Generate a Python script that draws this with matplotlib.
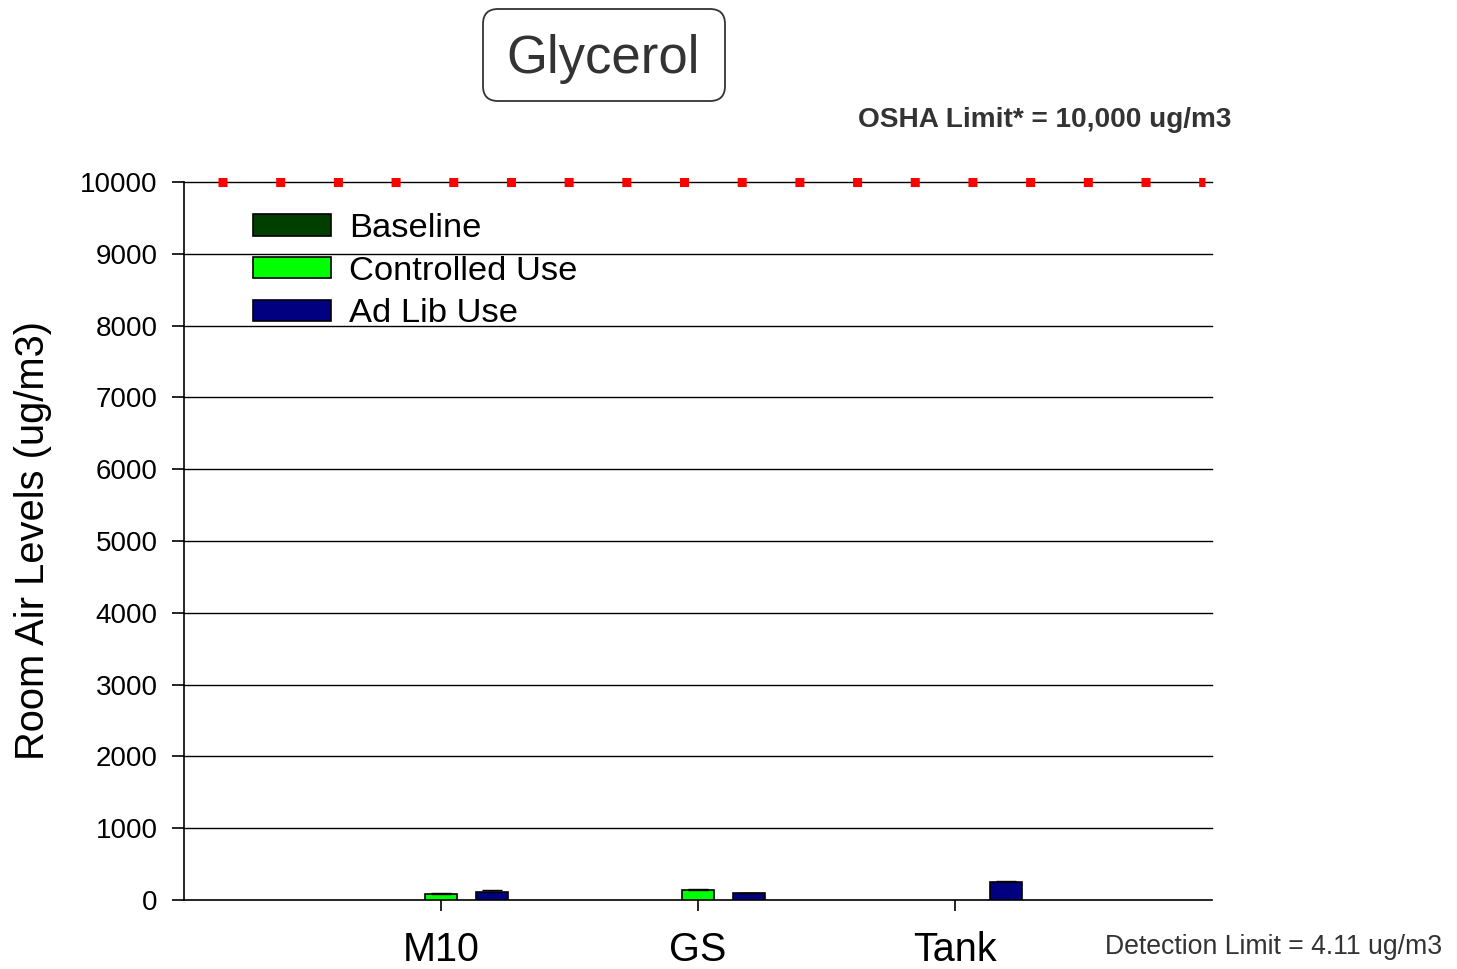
import matplotlib.pyplot as plt
import numpy as np
from matplotlib.patches import FancyBboxPatch

plt.rcParams['font.family'] = ['Liberation Sans', 'DejaVu Sans']

categories = ['M10', 'GS', 'Tank']
series = ['Baseline', 'Controlled Use', 'Ad Lib Use']
# baseline not detected -> no bars drawn
baseline = [np.nan, np.nan, np.nan]
controlled = [82, 135, np.nan]
controlled_err = [15, 15, 0]
adlib = [110, 92, 252]
adlib_err = [25, 6, 12]
osha_limit = 10000
colors = ['#003f00', '#00ff00', '#000080']

fig = plt.figure(figsize=(14.57, 9.69), dpi=100)
ax = fig.add_axes([184 / 1457, 1 - 900 / 969, 1028 / 1457, 718 / 969])

x = np.arange(1, len(categories) + 1)
w = 0.125
off = 0.2
ax.bar(x - off, baseline, w, color=colors[0], edgecolor='black', lw=1.2,
       label=series[0], zorder=3)
ax.bar(x, controlled, w, color=colors[1], edgecolor='black', lw=1.2,
       label=series[1], zorder=3)
ax.bar(x + off, adlib, w, color=colors[2], edgecolor='black', lw=1.2,
       label=series[2], zorder=3)
ax.errorbar(x, controlled, yerr=[np.zeros(3), controlled_err], fmt='none',
            ecolor='black', elinewidth=1, capsize=7, zorder=4)
ax.errorbar(x + off, adlib, yerr=[np.zeros(3), adlib_err], fmt='none',
            ecolor='black', elinewidth=1, capsize=7, zorder=4)

ax.set_xlim(0, 4)
ax.set_ylim(0, 10000)
ax.set_yticks(np.arange(0, 10001, 1000))
ax.set_xticks(x)
ax.set_xticklabels(categories, fontsize=28.5)
ax.tick_params(axis='y', labelsize=20, length=9, width=1.2, pad=10,
               direction='out')
ax.tick_params(axis='x', length=8, width=1.2, pad=14, direction='out')
for s in ['top', 'right']:
    ax.spines[s].set_visible(False)
for s in ['left', 'bottom']:
    ax.spines[s].set_linewidth(1.2)

for yv in np.arange(1000, 10001, 1000):
    ax.axhline(yv, color='black', lw=1, zorder=1, clip_on=False)

# OSHA limit dotted red squares
ax.axhline(osha_limit, xmin=(218 - 184) / 1028, xmax=(1205 - 184) / 1028,
           color='red', lw=6.5, dashes=(1, 5.39), zorder=5, clip_on=False)

ax.set_ylabel('Room Air Levels (ug/m3)', fontsize=28.7, labelpad=20)

leg = ax.legend(loc='upper left', bbox_to_anchor=(253 / 1457, 1 - 213 / 969),
                bbox_transform=fig.transFigure, frameon=False, fontsize=24.8,
                handlelength=2.25, handleheight=0.58, handletextpad=0.55,
                labelspacing=0.34, borderpad=0, borderaxespad=0)

box = FancyBboxPatch((4.83, 8.68), 2.42, 0.92,
                     boxstyle='round,pad=0,rounding_size=0.15',
                     transform=fig.dpi_scale_trans, facecolor='white',
                     edgecolor='#333333', lw=1.3)
fig.patches.append(box)
fig.text(603 / 1457, 1 - 59 / 969, 'Glycerol', fontsize=38, color='#333333',
         ha='center', va='center')

fig.text(1231 / 1457, 1 - 120 / 969, 'OSHA Limit* = 10,000 ug/m3',
         fontsize=20.2, fontweight='bold', color='#333333', ha='right',
         va='center')
fig.text(1105 / 1457, 1 - 947 / 969, 'Detection Limit = 4.11 ug/m3',
         fontsize=19.2, color='#333333', ha='left', va='center')

fig.savefig('out.png', dpi=100)
